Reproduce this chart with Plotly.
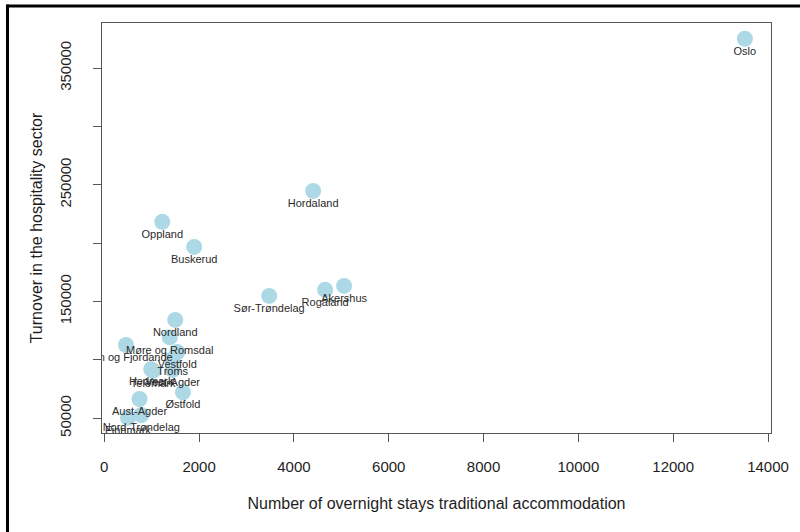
import plotly.graph_objects as go

counties = ["Oslo", "Hordaland", "Oppland", "Buskerud", "Sør-Trøndelag", "Rogaland",
            "Akershus", "Nordland", "Møre og Romsdal", "Sogn og Fjordande", "Vestfold",
            "Troms", "Telemark", "Hedmark", "Vest-Agder", "Østfold", "Aust-Agder",
            "Nord-Trøndelag", "Finnmark"]
overnight_stays = [13512, 4406, 1223, 1897, 3478, 4659,
                   5059, 1497, 1381, 457, 1539,
                   1444, 1030, 990, 1444, 1659, 744,
                   780, 500]
turnover = [375100, 244800, 218250, 196800, 154800, 160000,
            163400, 134250, 119250, 112800, 106800,
            100800, 90800, 92000, 91400, 72300, 66500,
            52800, 50400]

x_ticks = [0, 2000, 4000, 6000, 8000, 10000, 12000, 14000]
y_ticks = [50000, 100000, 150000, 200000, 250000, 300000, 350000]
y_ticktext = ["50000", "", "150000", "", "250000", "", "350000"]

FONT = "Liberation Sans, Arial, sans-serif"
TXT = "#1e1e1e"
AX = "#555555"

fig = go.Figure()
fig.add_trace(go.Scatter(
    x=overnight_stays, y=turnover, mode="markers",
    marker=dict(size=16, color="#ADD8E6", line=dict(width=0)),
    hoverinfo="skip", cliponaxis=True,
))
fig.add_trace(go.Scatter(
    x=overnight_stays, y=turnover, mode="markers+text",
    text=counties, textposition="bottom center",
    textfont=dict(family=FONT, size=11, color="#2a2a2a"),
    marker=dict(size=11, opacity=0),
    hoverinfo="skip", cliponaxis=True,
))

L, R, T, B = 102, 29, 23, 99
W, H = 800, 532
pw, ph = W - L - R, H - T - B

def px_x(p):
    return (p - L) / pw

def px_y(p):
    return (H - B - p) / ph

fig.update_layout(
    width=W, height=H,
    margin=dict(l=L, r=R, t=T, b=B),
    paper_bgcolor="white", plot_bgcolor="white",
    showlegend=False,
    font=dict(family=FONT, color=TXT),
    xaxis=dict(
        range=[-48, 14063], tickvals=x_ticks, ticktext=[str(v) for v in x_ticks],
        showgrid=False, zeroline=False, showline=True, mirror=True,
        linecolor=AX, linewidth=1, ticks="outside", ticklen=8, tickcolor=AX,
        tickfont=dict(size=15, color=TXT, family=FONT), ticklabelstandoff=12,
        title=dict(text="Number of overnight stays traditional accommodation",
                   font=dict(size=16, color=TXT, family=FONT), standoff=23),
    ),
    yaxis=dict(
        range=[37400, 388600], tickvals=y_ticks, ticktext=y_ticktext,
        showgrid=False, zeroline=False, showline=True, mirror=True,
        linecolor=AX, linewidth=1, ticks="outside", ticklen=8, tickcolor=AX,
        tickangle=-90, tickfont=dict(size=15, color=TXT, family=FONT), ticklabelstandoff=16,
        title=dict(text="Turnover in the hospitality sector",
                   font=dict(size=16, color=TXT, family=FONT), standoff=10),
    ),
    shapes=[
        dict(type="line", xref="paper", yref="paper", layer="above",
             x0=px_x(6.5), x1=px_x(800), y0=px_y(6), y1=px_y(6),
             line=dict(color="black", width=3)),
        dict(type="line", xref="paper", yref="paper", layer="above",
             x0=px_x(7.5), x1=px_x(7.5), y0=px_y(4.5), y1=px_y(532),
             line=dict(color="black", width=3)),
    ],
)

fig.write_html("out.html", config={"displayModeBar": False},
               post_script="document.body.style.margin='0px';document.body.style.overflow='hidden';")
